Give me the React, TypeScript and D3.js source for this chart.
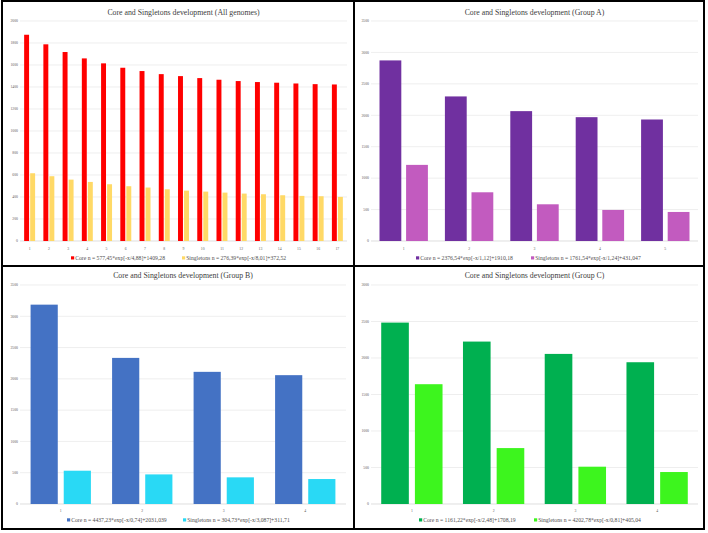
import React from 'react';
import * as d3 from 'd3';

// data
const allCategories = ['1', '2', '3', '4', '5', '6', '7', '8', '9', '10', '11', '12', '13', '14', '15', '16', '17'];
const allCore = [1875, 1788, 1718, 1660, 1615, 1575, 1545, 1517, 1499, 1481, 1466, 1454, 1445, 1439, 1432, 1426, 1423];
const allSingletons = [616, 589, 558, 537, 516, 498, 486, 470, 458, 449, 440, 431, 425, 416, 410, 407, 401];
const allTicks = [0, 200, 400, 600, 800, 1000, 1200, 1400, 1600, 1800, 2000];
const allLegend = ['Core n = 577,45*exp[-x/4,88]+1409,28', 'Singletons n = 276,39*exp[-x/8,01]+372,52'];

const groupACategories = ['1', '2', '3', '4', '5'];
const groupACore = [2873, 2300, 2066, 1970, 1933];
const groupASingletons = [1211, 775, 584, 494, 462];
const groupATicks = [0, 500, 1000, 1500, 2000, 2500, 3000, 3500];
const groupALegend = ['Core n = 2376,54*exp[-x/1,12]+1910,18', 'Singletons n = 1761,54*exp[-x/1,24]+431,047'];

const groupBCategories = ['1', '2', '3', '4'];
const groupBCore = [3186, 2335, 2112, 2059];
const groupBSingletons = [532, 473, 426, 399];
const groupBTicks = [0, 500, 1000, 1500, 2000, 2500, 3000, 3500];
const groupBLegend = ['Core n = 4437,23*exp[-x/0,74]+2031,039', 'Singletons n = 304,73*exp[-x/3,087]+311,71'];

const groupCCategories = ['1', '2', '3', '4'];
const groupCCore = [2485, 2225, 2056, 1942];
const groupCSingletons = [1641, 766, 511, 438];
const groupCTicks = [0, 500, 1000, 1500, 2000, 2500, 3000];
const groupCLegend = ['Core n = 1161,22*exp[-x/2,48]+1708,19', 'Singletons n = 4202,78*exp[-x/0,81]+405,04'];

const serif = '"Liberation Serif", "Times New Roman", serif';

function Panel({ cfg }) {
  const { x0, y0, title, cats, core, singletons, ticks, legend, colors, pad, plot, titleY, xLabelY, legendY, legendX } = cfg;
  const xScale = d3.scaleBand().domain(cats).range([plot.left, plot.right]).paddingInner(pad).paddingOuter(pad / 2);
  const subScale = d3.scaleBand().domain(['core', 'single']).range([0, xScale.bandwidth()]).paddingInner(0.18);
  const yScale = d3.scaleLinear().domain([0, ticks[ticks.length - 1]]).range([plot.bottom, plot.top]);
  const rows = cats.map((c, i) => ({ c, core: core[i], single: singletons[i] }));
  return (
    <g transform={`translate(${x0},${y0})`}>
      <text x={(plot.left + plot.right) / 2} y={titleY} textAnchor='middle' fontFamily={serif} fontSize={7.8} fill='#404040'>
        {title}
      </text>
      {ticks.map((t) => (
        <g key={t}>
          <line x1={plot.left} x2={plot.right} y1={yScale(t)} y2={yScale(t)} stroke={t === 0 ? '#d0d0d0' : '#e6e6e6'} strokeWidth={0.7} />
          <text x={plot.left - 2} y={yScale(t) + 1.3} textAnchor='end' fontFamily={serif} fontSize={3.8} fill='#606060'>
            {t}
          </text>
        </g>
      ))}
      {rows.map((d) => (
        <g key={d.c}>
          <rect x={xScale(d.c) + subScale('core')} y={yScale(d.core)} width={subScale.bandwidth()} height={yScale(0) - yScale(d.core)} fill={colors[0]} />
          <rect x={xScale(d.c) + subScale('single')} y={yScale(d.single)} width={subScale.bandwidth()} height={yScale(0) - yScale(d.single)} fill={colors[1]} />
          <text x={xScale(d.c) + xScale.bandwidth() / 2} y={xLabelY} textAnchor='middle' fontFamily={serif} fontSize={3.8} fill='#606060'>
            {d.c}
          </text>
        </g>
      ))}
      {legend.map((l, i) => (
        <g key={l}>
          <rect x={legendX[i]} y={legendY - 3.2} width={3.2} height={3.2} fill={colors[i]} />
          <text x={legendX[i] + 4.2} y={legendY} fontFamily={serif} fontSize={5.7} fill='#505050'>
            {l}
          </text>
        </g>
      ))}
    </g>
  );
}

export default function App() {
  const panels = [
    {
      x0: 3, y0: 1, title: 'Core and Singletons development (All genomes)',
      cats: allCategories, core: allCore, singletons: allSingletons, ticks: allTicks, legend: allLegend,
      colors: ['#ff0000', '#ffd966'], pad: 0.43,
      plot: { left: 17, right: 344, top: 20, bottom: 240 },
      titleY: 14, xLabelY: 249, legendY: 258.5, legendX: [68, 179],
    },
    {
      x0: 354, y0: 1, title: 'Core and Singletons development (Group A)',
      cats: groupACategories, core: groupACore, singletons: groupASingletons, ticks: groupATicks, legend: groupALegend,
      colors: ['#7030a0', '#c25bbf'], pad: 0.26,
      plot: { left: 17, right: 344, top: 20, bottom: 240 },
      titleY: 14, xLabelY: 249, legendY: 258.5, legendX: [62, 177],
    },
    {
      x0: 3, y0: 266, title: 'Core and Singletons development (Group B)',
      cats: groupBCategories, core: groupBCore, singletons: groupBSingletons, ticks: groupBTicks, legend: groupBLegend,
      colors: ['#4472c4', '#29d9f5'], pad: 0.26,
      plot: { left: 17, right: 343, top: 19, bottom: 238 },
      titleY: 12, xLabelY: 245.5, legendY: 255.5, legendX: [64, 180],
    },
    {
      x0: 354, y0: 266, title: 'Core and Singletons development (Group C)',
      cats: groupCCategories, core: groupCCore, singletons: groupCSingletons, ticks: groupCTicks, legend: groupCLegend,
      colors: ['#00b050', '#3df51e'], pad: 0.25,
      plot: { left: 17, right: 344, top: 19, bottom: 238 },
      titleY: 11.5, xLabelY: 245.5, legendY: 255.5, legendX: [65, 180],
    },
  ];
  return (
    <svg width={708} height={533} style={{ position: 'absolute', left: 0, top: 0, background: '#fff' }}>
      <rect x={0} y={0} width={708} height={533} fill='#fff' />
      {panels.map((p) => (
        <Panel key={p.title} cfg={p} />
      ))}
      <rect x={2} y={1} width={702} height={528} fill='none' stroke='#000' strokeWidth={2} />
      <line x1={354} x2={354} y1={1} y2={529} stroke='#000' strokeWidth={2} />
      <line x1={2} x2={704} y1={266} y2={266} stroke='#000' strokeWidth={2} />
    </svg>
  );
}
